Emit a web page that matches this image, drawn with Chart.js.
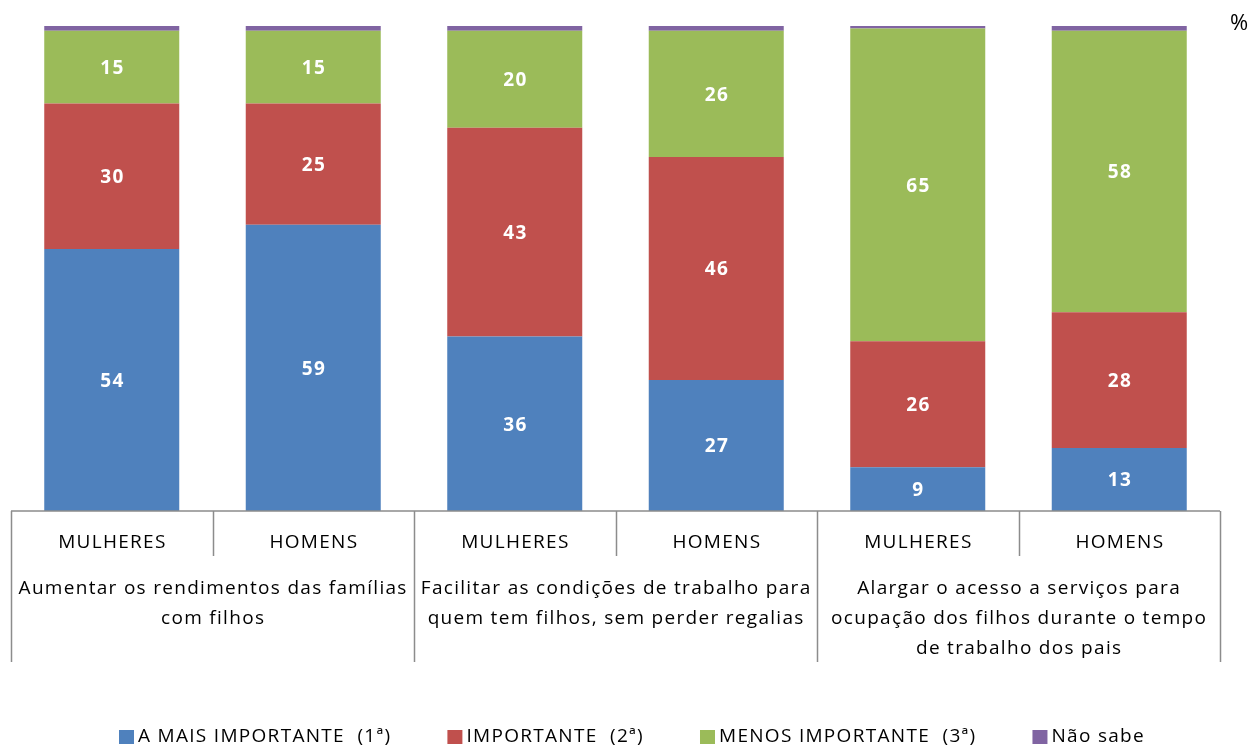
<!DOCTYPE html>
<html>
<head>
<meta charset="utf-8">
<script src="https://cdn.jsdelivr.net/npm/chart.js@4.4.1/dist/chart.umd.min.js"></script>
<style>
  html, body { margin: 0; padding: 0; background: #fff; }
</style>
</head>
<body>
<canvas id="myChart" width="1251" height="746"></canvas>
<script>
// data
var categories = ['MULHERES', 'HOMENS', 'MULHERES', 'HOMENS', 'MULHERES', 'HOMENS'];
var groupLabels = [
  ['Aumentar os rendimentos das famílias', 'com filhos'],
  ['Facilitar as condições de trabalho para', 'quem tem filhos, sem perder regalias'],
  ['Alargar o acesso a serviços para', 'ocupação dos filhos durante o tempo', 'de trabalho dos pais']
];
var maisImportante = [54, 59, 36, 27, 9, 13];
var importante = [30, 25, 43, 46, 26, 28];
var menosImportante = [15, 15, 20, 26, 64.5, 58];
var naoSabe = [1, 1, 1, 1, 0.5, 1];

var FONT = '"Open Sans", Lato, sans-serif';
var SPACING = 1.3;

// white numbers in the middle of each segment
var valueLabels = {
  id: 'valueLabels',
  afterDatasetsDraw: function (chart) {
    var ctx = chart.ctx;
    ctx.save();
    ctx.fillStyle = '#ffffff';
    ctx.font = 'bold 19px ' + FONT;
    ctx.letterSpacing = '1.5px';
    ctx.textAlign = 'center';
    ctx.textBaseline = 'middle';
    for (var d = 0; d < 3; d++) {
      var meta = chart.getDatasetMeta(d);
      var values = chart.data.datasets[d].data;
      meta.data.forEach(function (bar, i) {
        ctx.fillText(String(Math.round(values[i])), bar.x + 0.75, (bar.y + bar.base) / 2 + 1.5);
      });
    }
    ctx.restore();
  }
};

// two-level category axis drawn as a table below the bars, plus the legend
var tableAxis = {
  id: 'tableAxis',
  afterDraw: function (chart) {
    var ctx = chart.ctx;
    var area = chart.chartArea;
    var step = (area.right - area.left) / categories.length;
    ctx.save();
    ctx.strokeStyle = '#8c8c8c';
    ctx.lineWidth = 1.5;
    ctx.beginPath();
    ctx.moveTo(area.left, area.bottom);
    ctx.lineTo(area.right, area.bottom);
    for (var i = 0; i <= categories.length; i++) {
      var x = Math.round(area.left + i * step) + 0.5;
      ctx.moveTo(x, area.bottom);
      ctx.lineTo(x, area.bottom + (i % 2 === 0 ? 151 : 45));
    }
    ctx.stroke();

    ctx.fillStyle = '#000000';
    ctx.textAlign = 'center';
    ctx.textBaseline = 'middle';
    ctx.font = '19px ' + FONT;
    ctx.letterSpacing = SPACING + 'px';
    var half = SPACING / 2;
    categories.forEach(function (c, i) {
      ctx.fillText(c, chart.scales.x.getPixelForValue(i) + half, area.bottom + 32);
    });
    groupLabels.forEach(function (lines, g) {
      var cx = area.left + (g * 2 + 1) * step;
      lines.forEach(function (t, k) {
        ctx.fillText(t, cx + half, area.bottom + 78 + k * 30);
      });
    });

    // legend along the bottom
    var sets = chart.data.datasets;
    var gap = 56, box = 15, txtGap = 4;
    var widths = sets.map(function (s) { return ctx.measureText(s.label).width; });
    var total = widths.reduce(function (a, w) { return a + box + txtGap + w; }, 0) + gap * (sets.length - 1);
    var lx = 632 - total / 2;
    var ly = 737;
    ctx.textAlign = 'left';
    sets.forEach(function (s, k) {
      ctx.fillStyle = s.backgroundColor;
      ctx.fillRect(lx, ly - 7, box, 14);
      ctx.fillStyle = '#000000';
      ctx.fillText(s.label, lx + box + txtGap, ly);
      lx += box + txtGap + widths[k] + gap;
    });

    ctx.textAlign = 'center';
    ctx.letterSpacing = '0px';
    ctx.font = '22px ' + FONT;
    ctx.fillText('%', 1239, 24);
    ctx.restore();
  }
};

const ctx = document.getElementById('myChart').getContext('2d');
const myChart = new Chart(ctx, {
  type: 'bar',
  data: {
    labels: categories,
    datasets: [
      { label: 'A MAIS IMPORTANTE  (1ª)', data: maisImportante, backgroundColor: '#4f81bd' },
      { label: 'IMPORTANTE  (2ª)', data: importante, backgroundColor: '#c0504d' },
      { label: 'MENOS IMPORTANTE  (3ª)', data: menosImportante, backgroundColor: '#9bbb59' },
      { label: 'Não sabe', data: naoSabe, backgroundColor: '#8064a2' }
    ]
  },
  options: {
    responsive: false,
    animation: false,
    devicePixelRatio: 1,
    datasets: { bar: { categoryPercentage: 1, barPercentage: 0.67, borderWidth: 0 } },
    layout: { padding: { left: 11, right: 31, top: 26, bottom: 0 } },
    plugins: {
      tooltip: { enabled: false },
      legend: { display: false }
    },
    scales: {
      x: {
        stacked: true,
        grid: { display: false },
        border: { display: false },
        ticks: { display: false },
        afterFit: function (scale) { scale.height = 235; }
      },
      y: {
        stacked: true,
        display: false,
        min: 0,
        max: 100
      }
    }
  },
  plugins: [valueLabels, tableAxis]
});
</script>
</body>
</html>
